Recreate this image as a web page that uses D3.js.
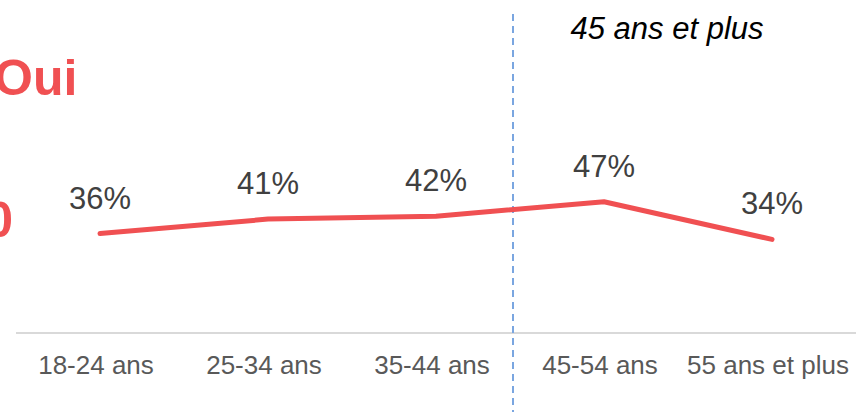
<!DOCTYPE html>
<html>
<head>
<meta charset="utf-8">
<script src="https://cdn.jsdelivr.net/npm/d3@7"></script>
<style>
  body { margin: 0; background: #fff; }
  svg { display: block; font-family: "Liberation Sans", Arial, sans-serif; }
</style>
</head>
<body>
<svg id="chart" width="856" height="412"></svg>
<script>
const categories = ['18-24 ans', '25-34 ans', '35-44 ans', '45-54 ans', '55 ans et plus'];
const values = [36, 41, 42, 47, 34];
const groupLabel = '45 ans et plus';
const seriesName = 'Oui';

const width = 856;
const height = 412;

const svg = d3.select('#chart');

const x = d3.scaleBand()
            .domain(categories)
            .range([16, 856]);
const y = d3.scaleLinear()
            .domain([0, 100])
            .range([338, 48]);

const cx = d => x(d) + x.bandwidth() / 2;

// baseline
svg.append('line')
   .attr('x1', x.range()[0]).attr('x2', x.range()[1])
   .attr('y1', 333).attr('y2', 333)
   .attr('stroke', '#d9d9d9')
   .attr('stroke-width', 2);

// category labels
svg.append('g')
   .selectAll('text')
   .data(categories)
   .enter().append('text')
   .attr('x', d => cx(d) - 4)
   .attr('y', 374)
   .attr('text-anchor', 'middle')
   .attr('font-size', 26)
   .attr('fill', '#595959')
   .text(d => d);

// divider between the age groups
let divX = x(categories[3]) - 7;
svg.append('line')
   .attr('x1', divX).attr('x2', divX)
   .attr('y1', 14).attr('y2', height)
   .attr('stroke', '#7aa6e0')
   .attr('stroke-width', 2)
   .attr('stroke-dasharray', '7,5');

svg.append('text')
   .attr('x', 667)
   .attr('y', 39)
   .attr('text-anchor', 'middle')
   .attr('font-size', 31)
   .attr('font-style', 'italic')
   .attr('fill', '#000')
   .text(groupLabel);

// line
let data = categories.map((c, i) => ({ cat: c, v: values[i] }));
let line = d3.line()
             .x(d => cx(d.cat))
             .y(d => y(d.v));

svg.append('path')
   .datum(data)
   .attr('d', line)
   .attr('fill', 'none')
   .attr('stroke', '#f05052')
   .attr('stroke-width', 5)
   .attr('stroke-linecap', 'round')
   .attr('stroke-linejoin', 'round');

svg.append('g')
   .selectAll('text')
   .data(data)
   .enter().append('text')
   .attr('x', d => cx(d.cat))
   .attr('y', d => y(d.v) - 25)
   .attr('text-anchor', 'middle')
   .attr('font-size', 31)
   .attr('fill', '#404040')
   .text(d => d.v + '%');

// series title, cut at the left edge
svg.append('text')
   .attr('x', -6)
   .attr('y', 95)
   .attr('font-size', 50)
   .attr('font-weight', 'bold')
   .attr('fill', '#f05052')
   .text(seriesName);

svg.append('text')
   .attr('x', 13)
   .attr('y', 237)
   .attr('text-anchor', 'end')
   .attr('font-size', 50)
   .attr('font-weight', 'bold')
   .attr('fill', '#f05052')
   .text('0');
</script>
</body>
</html>
